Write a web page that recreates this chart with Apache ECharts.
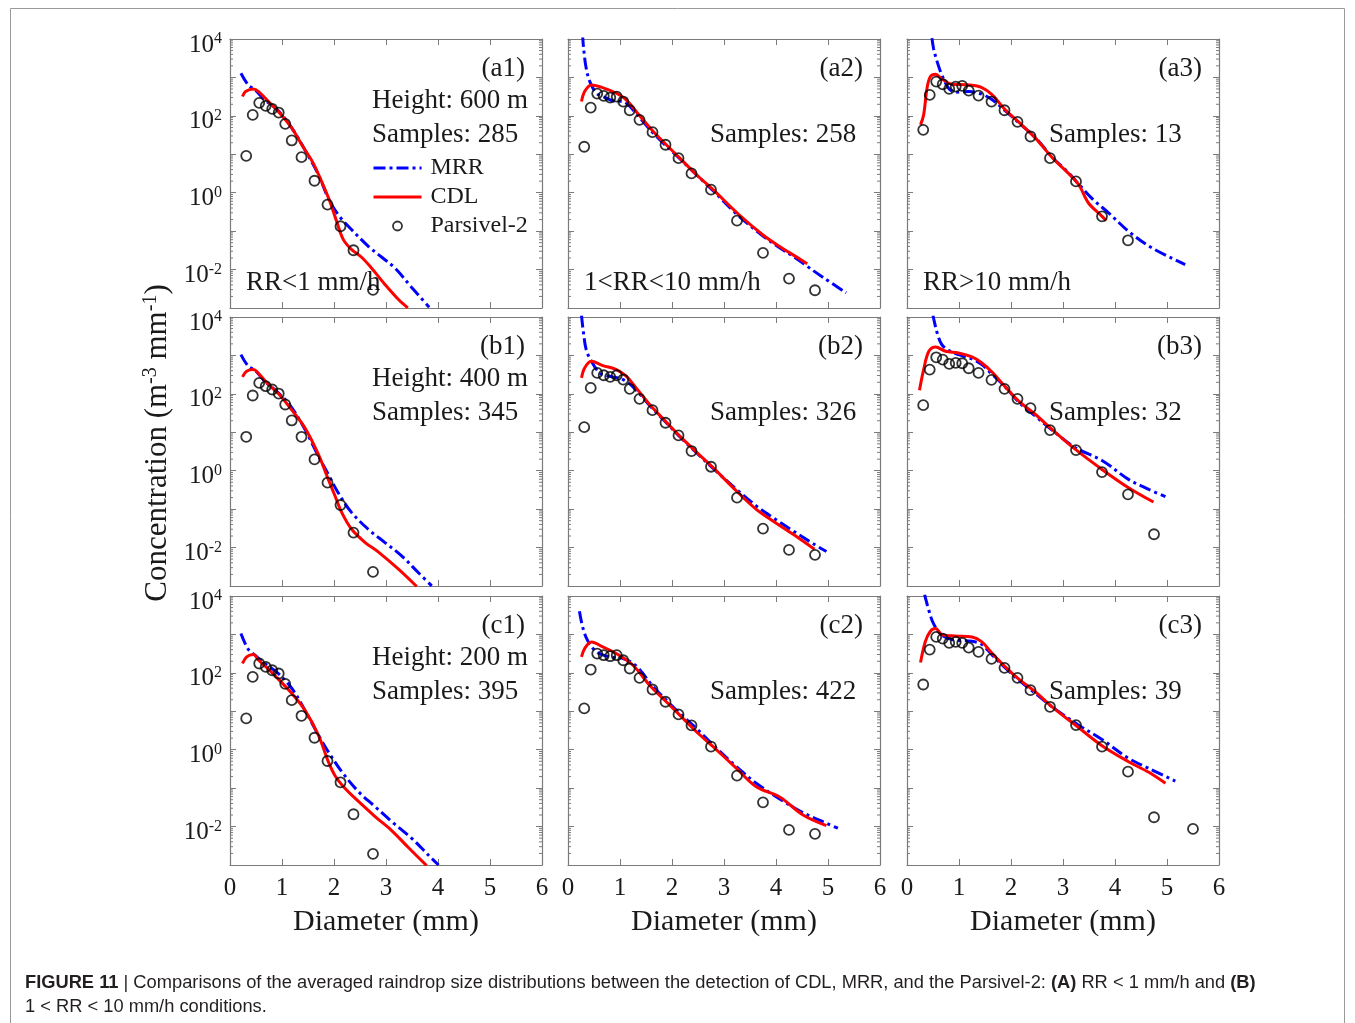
<!DOCTYPE html>
<html>
<head>
<meta charset="utf-8">
<title>Averaged raindrop size distributions: CDL, MRR and Parsivel-2</title>
<script src="https://cdn.jsdelivr.net/npm/echarts@6/dist/echarts.min.js"></script>
<style>
  html, body { margin: 0; padding: 0; background: #ffffff; }
  #chart { width: 1355px; height: 1023px; }
</style>
</head>
<body>
<div id="chart"></div>
<script>
// ---------------- data ----------------
// Parsivel-2 size-class centres (mm)
const parsivelD = [0.312, 0.437, 0.562, 0.687, 0.812, 0.937, 1.062, 1.187, 1.375, 1.625,
                   1.875, 2.125, 2.375, 2.75, 3.25, 3.75, 4.25, 4.75, 5.5];

// Parsivel-2 concentrations (m^-3 mm^-1), one value per size class
const parsA1 = [9.1, 106, 218, 182, 152, 122, 62, 22.9, 8.4, 2.05, 0.49, 0.134, 0.0318, 0.00296];
const parsA2 = [15.7, 164, 380, 330, 299, 318, 236, 140, 78.7, 37.7, 17.7, 7.94, 3.18, 1.2, 0.1875, 0.0271, 0.00583, 0.0029];
const parsA3 = [43.3, 351, 780, 664, 502, 578, 601, 455, 337, 236, 140, 69.8, 29, 7.94, 1.97, 0.243, 0.0578];
const parsB1 = [7.64, 90.6, 193, 158, 130, 102, 52.8, 20.3, 7.64, 1.97, 0.488, 0.128, 0.0245, 0.00233];
const parsB2 = [13.6, 143, 351, 305, 277, 305, 236, 135, 74.1, 37.7, 17.7, 8.28, 3.25, 1.27, 0.199, 0.0312, 0.00869, 0.00646];
const parsB3 = [50.8, 429, 895, 780, 601, 638, 626, 464, 351, 231, 135, 74.1, 42.5, 11.4, 3.44, 0.923, 0.243, 0.0222];
const parsC1 = [6.52, 78.7, 175, 143, 117, 96.2, 51.8, 19.5, 7.64, 2.05, 0.508, 0.142, 0.0209, 0.00195];
const parsC2 = [11.9, 122, 318, 288, 271, 288, 213, 130, 74.1, 36.9, 17.7, 8.28, 4.29, 1.2, 0.211, 0.0428, 0.00818, 0.00646];
const parsC3 = [49.8, 404, 861, 780, 601, 638, 601, 455, 351, 231, 135, 74.1, 35.5, 13.1, 4.37, 1.2, 0.268, 0.0175, 0.00869];

// CDL retrievals: [diameter (mm), concentration]
const cdlA1 = [[0.24,318],[0.30,429],[0.45,501],[0.55,429],[0.74,236],[0.93,130],[1.19,47.9],[1.38,17.7],[1.60,5.9],[1.76,1.97],[1.92,0.596],[2.05,0.18],[2.18,0.060],[2.34,0.033],[2.53,0.0209],[2.72,0.011],[2.98,0.0041],[3.24,0.00166],[3.42,0.00101]];
const cdlA2 = [[0.26,236],[0.32,429],[0.45,638],[0.61,578],[0.93,388],[1.12,261],[1.31,130],[1.64,39.2],[1.89,17.7],[2.15,7.94],[2.47,2.94],[2.79,1.2],[3.28,0.275],[3.75,0.0794],[4.07,0.0398],[4.39,0.0214],[4.60,0.0141]];
const cdlA3 = [[0.26,58.3],[0.32,106],[0.385,524],[0.45,1052],[0.55,1208],[0.67,914],[0.87,664],[1.19,638],[1.44,545],[1.64,351],[1.89,143],[2.15,68.6],[2.47,26.3],[2.79,8.28],[3.28,1.78],[3.49,0.54],[3.75,0.243],[3.83,0.187]];
const cdlB1 = [[0.24,277],[0.32,388],[0.45,429],[0.55,337],[0.74,175],[0.93,102],[1.19,37.7],[1.44,13.1],[1.70,2.66],[1.89,0.596],[2.02,0.22],[2.15,0.081],[2.34,0.0299],[2.60,0.0135],[2.85,0.0077],[3.24,0.00273],[3.59,0.00097]];
const cdlB2 = [[0.26,261],[0.32,473],[0.45,705],[0.67,545],[0.93,429],[1.12,288],[1.31,143],[1.57,52.8],[1.89,18.4],[2.15,7.94],[2.47,3.05],[2.79,1.2],[3.24,0.296],[3.62,0.099],[3.94,0.0493],[4.33,0.0222],[4.74,0.00906]];
const cdlB3 = [[0.24,124],[0.32,429],[0.42,1282],[0.55,1663],[0.74,1282],[0.99,1161],[1.25,914],[1.44,638],[1.64,366],[1.89,152],[2.15,64.6],[2.47,29],[2.79,11.9],[3.24,3.58],[3.75,1.08],[4.26,0.361],[4.74,0.153]];
const cdlC1 = [[0.24,175],[0.32,261],[0.45,299],[0.55,213],[0.74,124],[0.93,68.6],[1.19,29],[1.44,10.7],[1.70,2.4],[1.89,0.488],[2.02,0.211],[2.21,0.099],[2.44,0.0493],[2.79,0.0182],[3.11,0.00787],[3.43,0.00285],[3.78,0.00097]];
const cdlC2 = [[0.26,261],[0.32,429],[0.45,638],[0.67,473],[0.93,318],[1.25,158],[1.57,47.9],[1.89,17.7],[2.15,7.94],[2.47,2.94],[2.79,1.2],[3.24,0.327],[3.62,0.109],[4.07,0.059],[4.52,0.0201],[4.97,0.0106]];
const cdlC3 = [[0.26,185],[0.35,638],[0.45,1208],[0.55,1419],[0.67,991],[0.93,914],[1.25,861],[1.44,638],[1.64,318],[1.89,143],[2.15,68.6],[2.47,32.1],[2.79,13.1],[3.28,3.95],[3.75,1.27],[4.26,0.488],[4.65,0.258],[4.97,0.134]];

// MRR retrievals: [diameter (mm), concentration]
const mrrA1 = [[0.21,1282],[0.35,638],[0.48,473],[0.67,261],[0.93,135],[1.19,47.9],[1.44,13.1],[1.70,2.94],[1.89,0.726],[2.08,0.268],[2.34,0.109],[2.66,0.0404],[2.92,0.0209],[3.17,0.011],[3.49,0.00348],[3.83,0.00105]];
const mrrA2 = [[0.28,13000],[0.30,5730],[0.35,1730],[0.42,780],[0.55,388],[0.74,288],[0.87,245],[1.06,236],[1.25,143],[1.64,35.5],[2.15,7.64],[2.47,2.94],[2.79,1.13],[3.28,0.25],[3.75,0.075],[4.07,0.037],[4.39,0.0195],[4.58,0.0127],[4.90,0.00632],[5.35,0.00248]];
const mrrA3 = [[0.48,10500],[0.51,5730],[0.58,2576],[0.67,1161],[0.80,524],[0.93,412],[1.19,429],[1.44,366],[1.64,261],[1.89,135],[2.15,66],[2.47,27],[2.79,8.5],[3.11,3.25],[3.30,1.7],[3.56,0.70],[3.88,0.296],[4.26,0.099],[4.71,0.0366],[5.35,0.0135]];
const mrrB1 = [[0.21,1052],[0.35,524],[0.48,412],[0.67,213],[0.93,106],[1.19,43.3],[1.44,11.9],[1.70,2.4],[1.89,0.803],[2.08,0.268],[2.34,0.081],[2.66,0.0299],[2.98,0.0135],[3.30,0.00608],[3.62,0.00224],[3.88,0.00101]];
const mrrB2 = [[0.26,11000],[0.29,4690],[0.35,1419],[0.45,705],[0.61,351],[0.80,288],[1.06,236],[1.25,152],[1.57,49.8],[1.89,17.7],[2.15,7.64],[2.47,2.94],[2.79,1.15],[3.24,0.327],[3.62,0.121],[3.94,0.060],[4.33,0.0271],[4.71,0.0127],[4.97,0.00787]];
const mrrB3 = [[0.50,11000],[0.51,9420],[0.58,3840],[0.67,1910],[0.80,1361],[0.99,1052],[1.25,811],[1.44,578],[1.64,318],[1.89,152],[2.15,60.8],[2.47,26.3],[2.79,11.4],[3.24,3.95],[3.75,1.85],[4.26,0.596],[4.65,0.327],[4.97,0.211]];
const mrrC1 = [[0.21,1052],[0.35,412],[0.48,288],[0.67,175],[0.93,96.2],[1.19,39.2],[1.44,10.7],[1.70,2.4],[1.89,0.887],[2.15,0.268],[2.47,0.081],[2.79,0.033],[3.11,0.0135],[3.49,0.005],[3.81,0.00184],[4.01,0.001]];
const mrrC2 = [[0.22,4000],[0.29,1419],[0.385,664],[0.55,351],[0.80,261],[1.06,236],[1.31,152],[1.64,43.3],[1.89,19.5],[2.15,8.79],[2.47,3.58],[2.79,1.32],[3.24,0.361],[3.62,0.134],[4.07,0.0524],[4.52,0.0231],[4.97,0.0122],[5.19,0.00906]];
const mrrC3 = [[0.34,11000],[0.35,9420],[0.42,4250],[0.51,1910],[0.67,951],[0.93,705],[1.25,664],[1.44,545],[1.64,288],[1.89,135],[2.15,64.6],[2.47,29],[2.79,13.1],[3.28,4.55],[3.75,1.85],[4.26,0.596],[4.65,0.327],[5.16,0.153]];

// panel annotations
const panelTags = ['(a1)', '(a2)', '(a3)', '(b1)', '(b2)', '(b3)', '(c1)', '(c2)', '(c3)'];
const heightLabels = ['Height: 600 m', 'Height: 400 m', 'Height: 200 m'];
const sampleCounts = [285, 258, 13, 345, 326, 32, 395, 422, 39];
const rainRateLabels = ['RR<1 mm/h', '1<RR<10 mm/h', 'RR>10 mm/h'];
const legendNames = ['MRR', 'CDL', 'Parsivel-2'];

// ---------------- layout & style ----------------
const GRID_LEFT = [230, 568, 907];
const GRID_TOP = [39, 317, 596];
const GRID_W = 312;
const GRID_H = 269;
const AXIS_COLOR = '#7b7b7b';
const TEXT_COLOR = '#1a1a1a';
const SERIF = '"Liberation Serif", "Times New Roman", serif';
const SANS = '"Liberation Sans", Arial, sans-serif';

const mrrSets = [mrrA1, mrrA2, mrrA3, mrrB1, mrrB2, mrrB3, mrrC1, mrrC2, mrrC3];
const cdlSets = [cdlA1, cdlA2, cdlA3, cdlB1, cdlB2, cdlB3, cdlC1, cdlC2, cdlC3];
const parsSets = [parsA1, parsA2, parsA3, parsB1, parsB2, parsB3, parsC1, parsC2, parsC3];

// minor ticks of the logarithmic axis: 2..9 x 10^n
const minorTicks = [];
for (let e = -3; e < 4; e++) {
  for (let m = 2; m <= 9; m++) minorTicks.push([0, m * Math.pow(10, e)]);
}

function powLabel(v) {
  const e = Math.round(Math.log10(v));
  if (e % 2 !== 0 || e < -2) return '';
  return '{b|10}{s|' + e + '}';
}

const grids = [], xAxes = [], yAxes = [], series = [], graphics = [];

function xAxisOpt(p, top) {
  const row = Math.floor(p / 3);
  const showLabel = !top && row === 2;
  return {
    type: 'value', gridIndex: p, position: top ? 'top' : 'bottom',
    min: 0, max: 6, interval: 1,
    axisLine: { show: true, onZero: false, lineStyle: { color: AXIS_COLOR, width: 1.2 } },
    axisTick: { show: true, inside: true, length: 6, lineStyle: { color: AXIS_COLOR, width: 1 } },
    axisLabel: { show: showLabel, margin: 11, fontFamily: SERIF, fontSize: 25, color: TEXT_COLOR,
                 showMinLabel: true, showMaxLabel: true },
    splitLine: { show: false },
    name: showLabel ? 'Diameter (mm)' : '',
    nameLocation: 'middle', nameGap: 42,
    nameTextStyle: { fontFamily: SERIF, fontSize: 30, color: TEXT_COLOR }
  };
}

function yAxisOpt(p, right) {
  const col = p % 3;
  const showLabel = !right && col === 0;
  return {
    type: 'log', logBase: 10, gridIndex: p, position: right ? 'right' : 'left',
    min: 1e-3, max: 1e4,
    axisLine: { show: true, onZero: false, lineStyle: { color: AXIS_COLOR, width: 1.2 } },
    axisTick: { show: true, inside: true, length: 6, lineStyle: { color: AXIS_COLOR, width: 1 } },
    axisLabel: {
      show: showLabel, margin: 8, formatter: powLabel, padding: [12, 0, 0, 0],
      showMinLabel: true, showMaxLabel: true,
      rich: {
        b: { fontFamily: SERIF, fontSize: 25, color: TEXT_COLOR, lineHeight: 28 },
        s: { fontFamily: SERIF, fontSize: 16, color: TEXT_COLOR, lineHeight: 14, verticalAlign: 'top' }
      }
    },
    splitLine: { show: false }
  };
}

for (let p = 0; p < 9; p++) {
  const row = Math.floor(p / 3), col = p % 3;
  const left = GRID_LEFT[col], top = GRID_TOP[row];
  grids.push({ left: left, top: top, width: GRID_W, height: GRID_H, containLabel: false });
  xAxes[p] = xAxisOpt(p, false);
  xAxes[9 + p] = xAxisOpt(p, true);
  yAxes[p] = yAxisOpt(p, false);
  yAxes[9 + p] = yAxisOpt(p, true);

  // minor ticks on the left and right frame edges
  series.push({
    type: 'custom', name: 'minorTicks', xAxisIndex: p, yAxisIndex: p,
    data: minorTicks, encode: { x: 0, y: 1 }, silent: true, z: 1,
    renderItem: function (params, api) {
      const v = api.value(1);
      const l = api.coord([0, v]);
      const r = api.coord([6, v]);
      return {
        type: 'group',
        children: [
          { type: 'line', shape: { x1: l[0], y1: l[1], x2: l[0] + 3, y2: l[1] },
            style: { stroke: AXIS_COLOR, lineWidth: 1 } },
          { type: 'line', shape: { x1: r[0], y1: r[1], x2: r[0] - 3, y2: r[1] },
            style: { stroke: AXIS_COLOR, lineWidth: 1 } }
        ]
      };
    }
  });

  series.push({
    type: 'line', name: 'MRR', xAxisIndex: p, yAxisIndex: p,
    data: mrrSets[p], symbol: 'none', smooth: 0.35,
    lineStyle: { color: '#0000ff', width: 3, type: [12, 4, 3, 4], cap: 'butt' },
    itemStyle: { color: '#0000ff' }, z: 3, silent: true, emphasis: { disabled: true }
  });
  series.push({
    type: 'line', name: 'CDL', xAxisIndex: p, yAxisIndex: p,
    data: cdlSets[p], symbol: 'none', smooth: 0.35,
    lineStyle: { color: '#ff0000', width: 3, type: 'solid' },
    itemStyle: { color: '#ff0000' }, z: 4, silent: true, emphasis: { disabled: true }
  });
  const vals = parsSets[p];
  series.push({
    type: 'scatter', name: 'Parsivel-2', xAxisIndex: p, yAxisIndex: p,
    data: vals.map((v, i) => [parsivelD[i], v]),
    symbol: 'circle', symbolSize: 10,
    itemStyle: { color: 'rgba(255,255,255,0)', borderColor: '#000000', borderWidth: 1.8 },
    z: 5, silent: true, emphasis: { disabled: true }
  });

  // panel annotations
  const txt = { fontFamily: SERIF, fontSize: 27, fill: TEXT_COLOR, verticalAlign: 'middle' };
  graphics.push({ type: 'text', x: left + GRID_W - 17, y: top + 29.5, z: 1,
                  style: Object.assign({ text: panelTags[p], align: 'right' }, txt) });
  if (col === 0) {
    graphics.push({ type: 'text', x: left + 142, y: top + 61.5, z: 1,
                    style: Object.assign({ text: heightLabels[row], align: 'left' }, txt) });
  }
  graphics.push({ type: 'text', x: left + 142, y: top + 95.5, z: 1,
                  style: Object.assign({ text: 'Samples: ' + sampleCounts[p], align: 'left' }, txt) });
  if (row === 0) {
    graphics.push({ type: 'text', x: left + 16, y: top + 244, z: 1,
                    style: Object.assign({ text: rainRateLabels[col], align: 'left' }, txt) });
  }
}

// y-axis title, centred on the middle row
graphics.push({
  type: 'text', x: 158, y: 443, rotation: Math.PI / 2, z: 1,
  style: {
    text: '{t|Concentration (m}{s|-3}{t| mm}{s|-1}{t|)}',
    align: 'center', verticalAlign: 'middle',
    rich: {
      t: { fontFamily: SERIF, fontSize: 31, fill: TEXT_COLOR, lineHeight: 34 },
      s: { fontFamily: SERIF, fontSize: 20, fill: TEXT_COLOR, lineHeight: 16, verticalAlign: 'top' }
    }
  }
});

// figure caption
const capRich = {
  bd: { fontFamily: SANS, fontSize: 18.3, fontWeight: 'bold', fill: '#231f20' },
  n: { fontFamily: SANS, fontSize: 18.3, fill: '#231f20' }
};
graphics.push({
  type: 'text', x: 25, y: 983, z: 1,
  style: {
    text: '{bd|FIGURE 11 }{n|| Comparisons of the averaged raindrop size distributions between the detection of CDL, MRR, and the Parsivel-2: }{bd|(A)}{n| RR < 1 mm/h and }{bd|(B)}',
    verticalAlign: 'middle', rich: capRich
  }
});
graphics.push({
  type: 'text', x: 25, y: 1007, z: 1,
  style: { text: '{n|1 < RR < 10 mm/h conditions.}', verticalAlign: 'middle', rich: capRich }
});

// outer frame
graphics.push({
  type: 'rect', z: 0, silent: true,
  shape: { x: 10.5, y: 8.5, width: 1334, height: 1100 },
  style: { fill: 'none', stroke: '#9a9a9a', lineWidth: 1 }
});

const chart = echarts.init(document.getElementById('chart'), null, { renderer: 'canvas' });
chart.setOption({
  backgroundColor: '#ffffff',
  animation: false,
  grid: grids,
  xAxis: xAxes,
  yAxis: yAxes,
  legend: {
    data: [
      { name: legendNames[0], itemStyle: { opacity: 0 } },
      { name: legendNames[1], itemStyle: { opacity: 0 } },
      { name: legendNames[2] }
    ],
    orient: 'vertical',
    left: 367, top: 151,
    itemWidth: 48, itemHeight: 9, itemGap: 5,
    selectedMode: false,
    textStyle: { fontFamily: SERIF, fontSize: 24, color: TEXT_COLOR, lineHeight: 24, padding: [0, 0, 0, 4] },
    lineStyle: { width: 3 },
    itemStyle: { borderWidth: 1.8 }
  },
  graphic: graphics,
  series: series
});
</script>
</body>
</html>
